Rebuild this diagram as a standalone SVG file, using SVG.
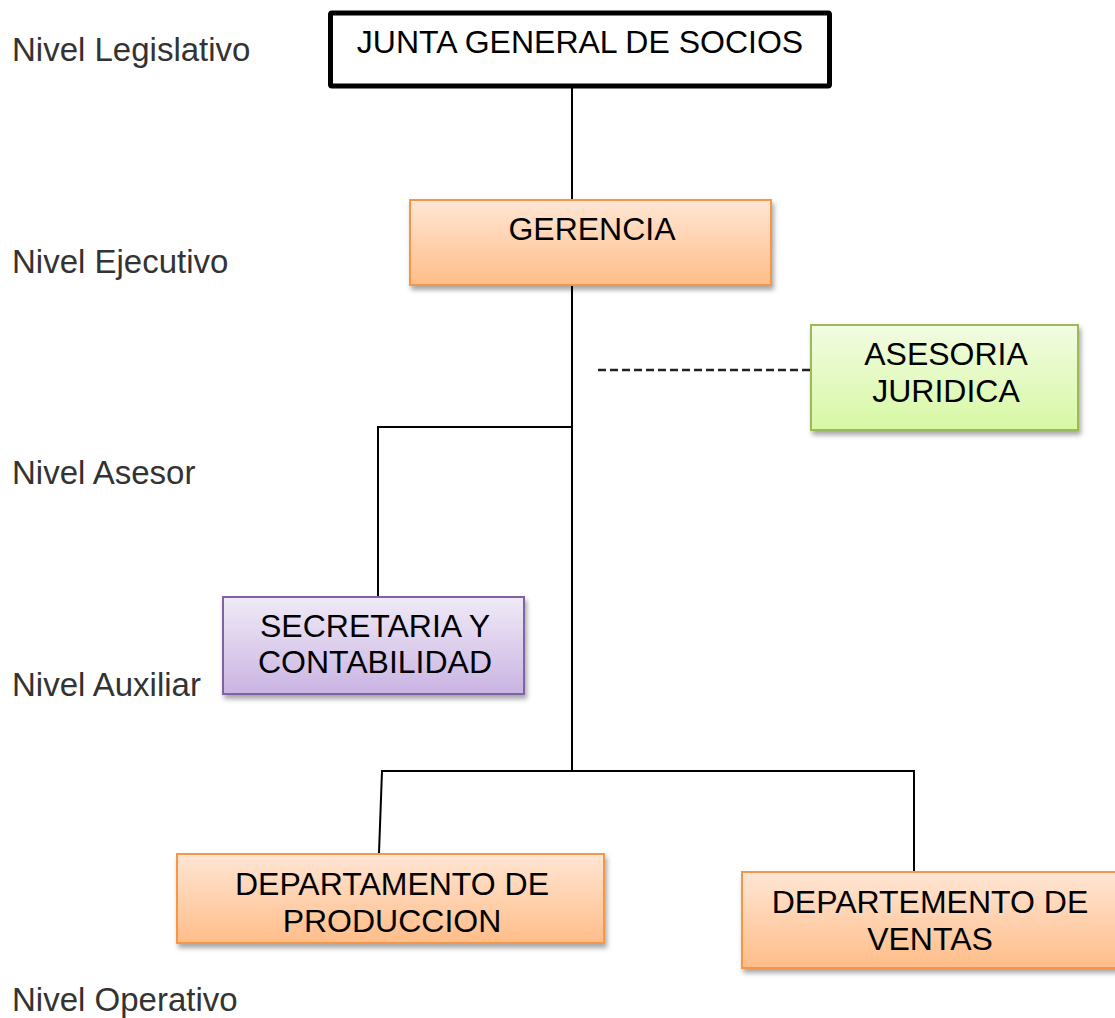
<svg xmlns="http://www.w3.org/2000/svg" width="1115" height="1018" viewBox="0 0 1115 1018">
<style>
.lbl{font-family:"Liberation Sans",Arial,sans-serif;font-size:33px;fill:#333}
.t{font-family:"Liberation Sans",Arial,sans-serif;font-size:32px;fill:#000;text-anchor:middle}
.c{stroke:#000;stroke-width:2;fill:none}
.or{fill:url(#gOr);stroke:#F79646;stroke-width:2;filter:url(#sh)}
.gr{fill:url(#gGr);stroke:#9BBB59;stroke-width:2;filter:url(#sh)}
.pu{fill:url(#gPu);stroke:#8064A2;stroke-width:2;filter:url(#sh)}
</style>
<defs>
<linearGradient id="gOr" x1="0" y1="0" x2="0" y2="1"><stop offset="0" stop-color="#FFE6D5"/><stop offset="1" stop-color="#FFBD88"/></linearGradient>
<linearGradient id="gGr" x1="0" y1="0" x2="0" y2="1"><stop offset="0" stop-color="#F2FCE2"/><stop offset="1" stop-color="#D7F8A4"/></linearGradient>
<linearGradient id="gPu" x1="0" y1="0" x2="0" y2="1"><stop offset="0" stop-color="#F0EAF7"/><stop offset="1" stop-color="#CAB4E3"/></linearGradient>
<filter id="sh" x="-10%" y="-10%" width="120%" height="130%"><feDropShadow dx="2" dy="4" stdDeviation="2.5" flood-color="#000" flood-opacity="0.35"/></filter>
</defs>
<rect width="1115" height="1018" fill="#fff"/>
<g id="levels">
<text class="lbl" x="12" y="61">Nivel Legislativo</text>
<text class="lbl" x="12" y="273">Nivel Ejecutivo</text>
<text class="lbl" x="12" y="484">Nivel Asesor</text>
<text class="lbl" x="12" y="696">Nivel Auxiliar</text>
<text class="lbl" x="12" y="1011">Nivel Operativo</text>
</g>
<g id="connectors">
<line class="c" x1="572" y1="87" x2="572" y2="200"/>
<line class="c" x1="572" y1="285" x2="572" y2="772"/>
<polyline class="c" points="572,427 378,427 378,598"/>
<polyline class="c" points="379,853 382,771 914,771 914,872"/>
<line x1="598" y1="370" x2="810" y2="370" stroke="#222" stroke-width="2.5" stroke-dasharray="8,4"/>
</g>
<g id="junta">
<rect x="330.5" y="13" width="499" height="73" fill="#fff" stroke="#000" stroke-width="5" rx="1.5"/>
<text class="t" x="580" y="53">JUNTA GENERAL DE SOCIOS</text>
</g>
<g id="gerencia">
<rect class="or" x="410" y="200" width="361" height="85"/>
<text class="t" x="592" y="240">GERENCIA</text>
</g>
<g id="asesoria">
<rect class="gr" x="811" y="325" width="267" height="105"/>
<text class="t" x="946" y="365">ASESORIA</text>
<text class="t" x="946" y="402">JURIDICA</text>
</g>
<g id="secretaria">
<rect class="pu" x="223" y="597" width="301" height="97"/>
<text class="t" x="375" y="637">SECRETARIA Y</text>
<text class="t" x="375" y="673">CONTABILIDAD</text>
</g>
<g id="produccion">
<rect class="or" x="177" y="854" width="427" height="89"/>
<text class="t" x="392" y="895">DEPARTAMENTO DE</text>
<text class="t" x="392" y="932">PRODUCCION</text>
</g>
<g id="ventas">
<rect class="or" x="742" y="872" width="390" height="96"/>
<text class="t" x="930" y="913">DEPARTEMENTO DE</text>
<text class="t" x="930" y="950">VENTAS</text>
</g>
</svg>
